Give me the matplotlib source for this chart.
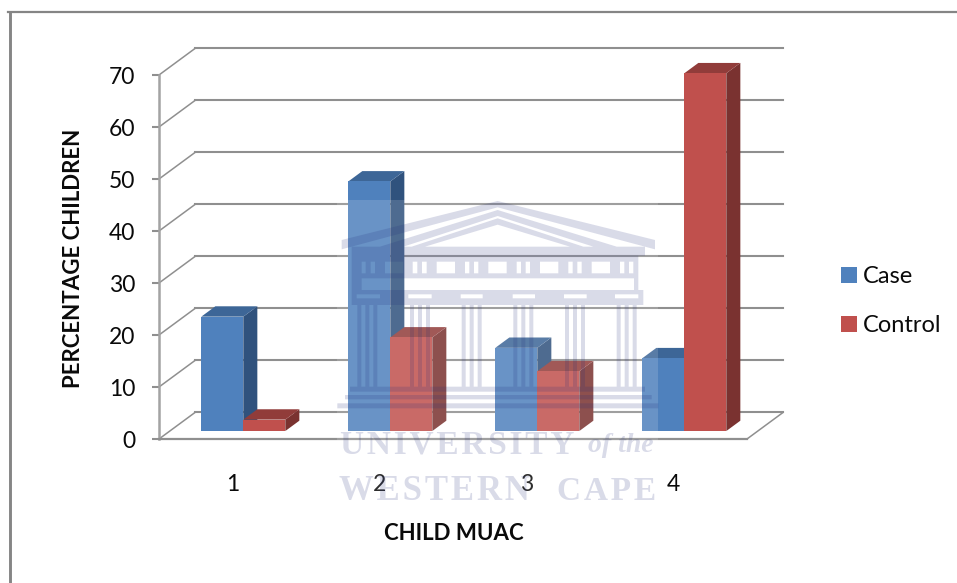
import matplotlib
matplotlib.use("Agg")
import matplotlib.pyplot as plt
from matplotlib.lines import Line2D
from matplotlib.patches import PathPatch, Polygon, Rectangle, Patch
from matplotlib.path import Path

WIDTH, HEIGHT = 957, 583

categories = ["1", "2", "3", "4"]
case_values = [22, 48, 16, 14]
control_values = [2.2, 18, 11.5, 68.8]
y_ticks = [0, 10, 20, 30, 40, 50, 60, 70]

CASE_COLORS = {"front": "#4F81BD", "top": "#3D6697", "side": "#30527D"}
CONTROL_COLORS = {"front": "#C0504D", "top": "#913C3A", "side": "#7A3230"}
GRID = "#8F8F8F"
INK = "#0A0A0A"

# oblique offset of the back wall, in data units
DEPTH_X = 36 / 147
DEPTH_Y = 5.1
BAR_WIDTH = 42 / 147
BAR_FRONT = 0.30
BAR_BACK = 0.69

plt.rcParams["font.family"] = ["Lato", "DejaVu Sans"]


def project(x, y, depth):
    return x + depth * DEPTH_X, y + depth * DEPTH_Y


def draw_bar(ax, left, value, colors):
    right = left + BAR_WIDTH
    front = [project(left, 0, BAR_FRONT), project(right, 0, BAR_FRONT),
             project(right, value, BAR_FRONT), project(left, value, BAR_FRONT)]
    side = [project(right, 0, BAR_FRONT), project(right, 0, BAR_BACK),
            project(right, value, BAR_BACK), project(right, value, BAR_FRONT)]
    top = [project(left, value, BAR_FRONT), project(right, value, BAR_FRONT),
           project(right, value, BAR_BACK), project(left, value, BAR_BACK)]
    for points, key in ((side, "side"), (top, "top"), (front, "front")):
        ax.add_patch(Polygon(points, closed=True, facecolor=colors[key],
                             edgecolor="none", clip_on=False, zorder=3))


def box(x0, y0, x1, y1):
    return [(x0, y0), (x1, y0), (x1, y1), (x0, y1), (x0, y0)]


def build_temple():
    """Filled pieces of the building, all wound the same way (drawn at 3x)."""
    pieces = []
    # pediment bands
    pieces.append([(503, 33), (975, 150), (975, 178), (503, 52), (35, 178), (35, 150), (503, 33)])
    pieces.append([(503, 60), (860, 170), (790, 170), (503, 78), (220, 170), (150, 170), (503, 60)])
    pieces.append([(503, 85), (760, 170), (720, 170), (503, 104), (285, 170), (245, 170), (503, 85)])
    pieces.append(box(65, 170, 945, 197))

    # frieze, solid between the window openings
    openings = [95, 107, 122, 135, 165, 220, 248, 262, 276, 290, 320, 375, 405,
                418, 432, 445, 475, 530, 560, 573, 587, 600, 630, 685, 715, 728,
                742, 755, 785, 840, 870, 883, 897, 910]
    pieces.append(box(65, 197, 925, 215))
    pieces.append(box(65, 250, 925, 265))
    stops = [65] + openings + [925]
    for a, b in zip(stops[0::2], stops[1::2]):
        pieces.append(box(a, 215, b, 250))
    pieces.append(box(65, 265, 95, 300))
    pieces.append(box(912, 265, 925, 300))

    # cornice with slots for the capitals
    slots = [80, 150, 235, 305, 392, 458, 548, 615, 702, 770, 855, 925]
    pieces.append(box(65, 300, 940, 313))
    pieces.append(box(65, 325, 940, 345))
    stops = [65] + slots + [940]
    for a, b in zip(stops[0::2], stops[1::2]):
        pieces.append(box(a, 313, b, 325))

    # columns, three flutes each
    for col in (82, 240, 395, 550, 705, 860):
        for offset in (0, 24, 48):
            pieces.append(box(col + offset, 345, col + offset + 12, 590))

    # stepped base
    pieces.append(box(60, 590, 945, 605))
    pieces.append(box(45, 615, 965, 628))
    pieces.append(box(22, 640, 985, 655))
    return pieces


fig = plt.figure(figsize=(WIDTH / 100, HEIGHT / 100), dpi=100, facecolor="white")
ax = fig.add_axes([159 / WIDTH, 1 - 439 / HEIGHT, 588 / WIDTH, 364 / HEIGHT])
ax.set_xlim(0, len(categories))
ax.set_ylim(0, 70)
ax.patch.set_visible(False)

# walls and floor
for value in y_ticks:
    bx, by = project(0, value, 1)
    ax.plot([0, bx], [value, by], color=GRID, lw=1.1, clip_on=False, zorder=1)
    ex, ey = project(len(categories), value, 1)
    ax.plot([bx, ex], [by, ey], color=GRID, lw=1.5, clip_on=False, zorder=1)
ex, ey = project(len(categories), 0, 1)
ax.plot([len(categories), ex], [0, ey], color=GRID, lw=1.1, clip_on=False, zorder=1)

# bars run left to right so each red block sits in front of its blue one
for i in range(len(categories)):
    draw_bar(ax, i + 0.5 - BAR_WIDTH, case_values[i], CASE_COLORS)
    draw_bar(ax, i + 0.5, control_values[i], CONTROL_COLORS)

for name in ("top", "right"):
    ax.spines[name].set_visible(False)
ax.spines["left"].set_color("#A3A3A3")
ax.spines["left"].set_linewidth(1.8)
ax.spines["bottom"].set_color(GRID)
ax.spines["bottom"].set_linewidth(1.6)

ax.set_yticks(y_ticks)
ax.set_xticks([i + 0.5 for i in range(len(categories))])
ax.set_xticklabels(categories)
ax.tick_params(axis="y", length=5, width=1.5, color=GRID, pad=12,
               labelsize=16.5, labelcolor=INK)
ax.tick_params(axis="x", length=0, pad=25, labelsize=16.5, labelcolor=INK)
ax.set_xlabel("CHILD MUAC", fontsize=16, fontweight="bold", color=INK)
ax.xaxis.set_label_coords((454 - 159) / 588, -(534 - 439) / 364)
ax.xaxis.label.set_va("center")
ax.set_ylabel("PERCENTAGE CHILDREN", fontsize=16, fontweight="bold", color=INK)
ax.yaxis.set_label_coords((74 - 159) / 588, (439 - 258) / 364)
ax.yaxis.label.set_va("center")

fig.legend(handles=[Patch(facecolor=CASE_COLORS["front"], label="Case"),
                    Patch(facecolor=CONTROL_COLORS["front"], label="Control")],
           loc="center left", bbox_to_anchor=(841 / WIDTH, 1 - 301 / HEIGHT),
           frameon=False, fontsize=17, labelcolor=INK, handlelength=0.68,
           handleheight=0.68, handletextpad=0.25, labelspacing=1.18,
           borderpad=0, borderaxespad=0)

# overlay in pixel units for the outer frame and the crest
over = fig.add_axes([0, 0, 1, 1], zorder=5)
over.set_xlim(0, WIDTH)
over.set_ylim(HEIGHT, 0)
over.axis("off")

over.add_line(Line2D([9.5, 9.5], [HEIGHT, 12], color="#858585", lw=2.1))
over.add_line(Line2D([8, WIDTH], [12, 12], color="#858585", lw=1.6))

over.add_patch(Rectangle((337, 200), 321, 304, facecolor="white", alpha=0.15,
                         edgecolor="none"))

verts, codes = [], []
for piece in build_temple():
    verts += [(330 + x / 3, 190 + y / 3) for x, y in piece]
    codes += [Path.MOVETO] + [Path.LINETO] * (len(piece) - 2) + [Path.CLOSEPOLY]
over.add_patch(PathPatch(Path(verts, codes), facecolor="#1F2A7A", alpha=0.17,
                         edgecolor="none"))

crest = dict(family="Liberation Serif", color="#1F2A7A", alpha=0.17, va="center",
             fontweight="bold")
over.text(340, 445, "U\u200aN\u200aI\u200aV\u200aE\u200aR\u200aS\u200aI\u200aT\u200aY",
          fontsize=24, **crest)
over.text(588, 446, "of the", fontsize=20, style="italic", **crest)
over.text(339, 491, "W\u200aE\u200aS\u200aT\u200aE\u200aR\u200aN", fontsize=25, **crest)
over.text(557, 491, "C\u200aA\u200aP\u200aE", fontsize=24, **crest)

fig.savefig("out.png", dpi=100)
